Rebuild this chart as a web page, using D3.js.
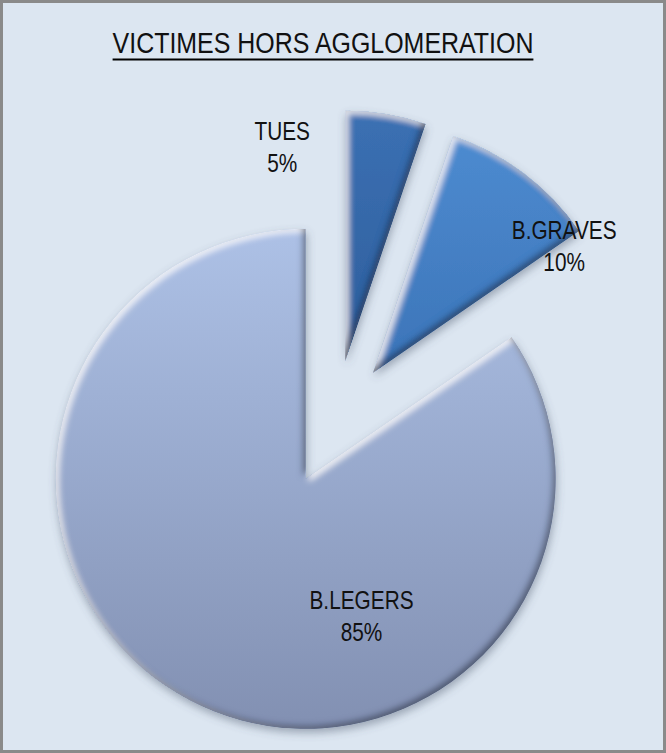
<!DOCTYPE html>
<html>
<head>
<meta charset="utf-8">
<script src="https://cdn.jsdelivr.net/npm/d3@7"></script>
<style>
  html, body { margin: 0; padding: 0; background: #dce6f1; }
  svg { display: block; }
  text { font-family: "Liberation Sans", Arial, sans-serif; fill: #111; }
</style>
</head>
<body>
<svg id="chart"></svg>
<script>
const width = 666, height = 753;

// data
const title = "VICTIMES HORS AGGLOMERATION";
const categories = ["TUES", "B.GRAVES", "B.LEGERS"];
const shares = [5.2, 10.2, 84.6];
const percentLabels = ["5%", "10%", "85%"];

// colours, top -> bottom of the gradient
const sliceColors = [
    ["#3b70b3", "#2f5e9c"],
    ["#4d8bd0", "#3c74b8"],
    ["#adc1e6", "#8290b2"]
];

// where the labels sit, relative to the tip of each (exploded) slice
const labelAngle = [-16.5, 56.6, 158];   // degrees clockwise from 12 o'clock
const labelDist = [222, 229, 149];

const cx = 335, cy = 423, radius = 250, explode = 63;

const svg = d3.select("#chart").attr("width", width).attr("height", height);
const defs = svg.append("defs");

// background + frame
svg.append("rect")
    .attr("x", 1.5).attr("y", 1.5)
    .attr("width", width - 3).attr("height", height - 3)
    .attr("fill", "#dce6f1")
    .attr("stroke", "#8a8a8a")
    .attr("stroke-width", 3);

// vertical gradients over each slice's own box
sliceColors.forEach((c, i) => {
    const g = defs.append("linearGradient")
        .attr("id", "grad" + i)
        .attr("x1", 0).attr("x2", 0)
        .attr("y1", 0).attr("y2", 1);
    g.append("stop").attr("offset", "0%").attr("stop-color", c[0]);
    g.append("stop").attr("offset", "100%").attr("stop-color", c[1]);
});

// soft bevel + shadow, roughly like the office "3D" look
const f = defs.append("filter").attr("id", "bevel")
    .attr("x", "-20%").attr("y", "-20%").attr("width", "140%").attr("height", "140%");
f.append("feGaussianBlur").attr("in", "SourceAlpha").attr("stdDeviation", 3).attr("result", "blur");
f.append("feOffset").attr("in", "blur").attr("dx", 3).attr("dy", 3).attr("result", "blurDR");
f.append("feOffset").attr("in", "blur").attr("dx", -3).attr("dy", -3).attr("result", "blurUL");
f.append("feComposite").attr("in", "SourceAlpha").attr("in2", "blurDR")
    .attr("operator", "arithmetic").attr("k1", 0).attr("k2", 1).attr("k3", -1).attr("k4", 0).attr("result", "hlMask");
f.append("feFlood").attr("flood-color", "#ffffff").attr("flood-opacity", 0.8).attr("result", "white");
f.append("feComposite").attr("in", "white").attr("in2", "hlMask").attr("operator", "in").attr("result", "hl");
f.append("feComposite").attr("in", "SourceAlpha").attr("in2", "blurUL")
    .attr("operator", "arithmetic").attr("k1", 0).attr("k2", 1).attr("k3", -1).attr("k4", 0).attr("result", "shMask");
f.append("feFlood").attr("flood-color", "#14233d").attr("flood-opacity", 0.75).attr("result", "dark");
f.append("feComposite").attr("in", "dark").attr("in2", "shMask").attr("operator", "in").attr("result", "sh");
f.append("feGaussianBlur").attr("in", "SourceAlpha").attr("stdDeviation", 4).attr("result", "dsBlur");
f.append("feOffset").attr("in", "dsBlur").attr("dx", 1).attr("dy", 4).attr("result", "dsOff");
f.append("feFlood").attr("flood-color", "#4a566a").attr("flood-opacity", 0.45).attr("result", "dsCol");
f.append("feComposite").attr("in", "dsCol").attr("in2", "dsOff").attr("operator", "in").attr("result", "ds");
const merge = f.append("feMerge");
["ds", "SourceGraphic", "hl", "sh"].forEach(n => merge.append("feMergeNode").attr("in", n));

// pie
const pie = d3.pie().sort(null).value(d => d);
const arcs = pie(shares);
const arc = d3.arc().innerRadius(0).outerRadius(radius);

const slices = svg.append("g").attr("transform", `translate(${cx},${cy})`);

slices.selectAll("path")
    .data(arcs)
    .enter()
    .append("path")
    .attr("d", arc)
    .attr("transform", d => {
        const mid = (d.startAngle + d.endAngle) / 2;
        return `translate(${Math.sin(mid) * explode},${-Math.cos(mid) * explode})`;
    })
    .attr("fill", (d, i) => `url(#grad${i})`)
    .attr("filter", "url(#bevel)");

// squeeze a text element horizontally to mimic the narrow font
function narrow(sel, k) {
    sel.each(function () {
        const len = this.getComputedTextLength();
        d3.select(this).attr("textLength", len * k).attr("lengthAdjust", "spacingAndGlyphs");
    });
}

// labels
arcs.forEach((d, i) => {
    const mid = (d.startAngle + d.endAngle) / 2;
    const tipX = cx + Math.sin(mid) * explode;
    const tipY = cy - Math.cos(mid) * explode;
    const a = labelAngle[i] * Math.PI / 180;
    const x = tipX + Math.sin(a) * labelDist[i];
    const y = tipY - Math.cos(a) * labelDist[i];
    [categories[i], percentLabels[i]].forEach((s, k) => {
        svg.append("text")
            .attr("x", x).attr("y", y - 8 + k * 32)
            .attr("text-anchor", "middle")
            .attr("font-size", 26)
            .text(s)
            .call(narrow, 0.8);
    });
});

// title, underlined
const titleText = svg.append("text")
    .attr("x", 323).attr("y", 53)
    .attr("text-anchor", "middle")
    .attr("font-size", 29)
    .text(title)
    .call(narrow, 0.86);
const tw = +titleText.attr("textLength");
svg.append("line")
    .attr("x1", 323 - tw / 2).attr("x2", 323 + tw / 2)
    .attr("y1", 59.5).attr("y2", 59.5)
    .attr("stroke", "#000").attr("stroke-width", 2);
</script>
</body>
</html>
